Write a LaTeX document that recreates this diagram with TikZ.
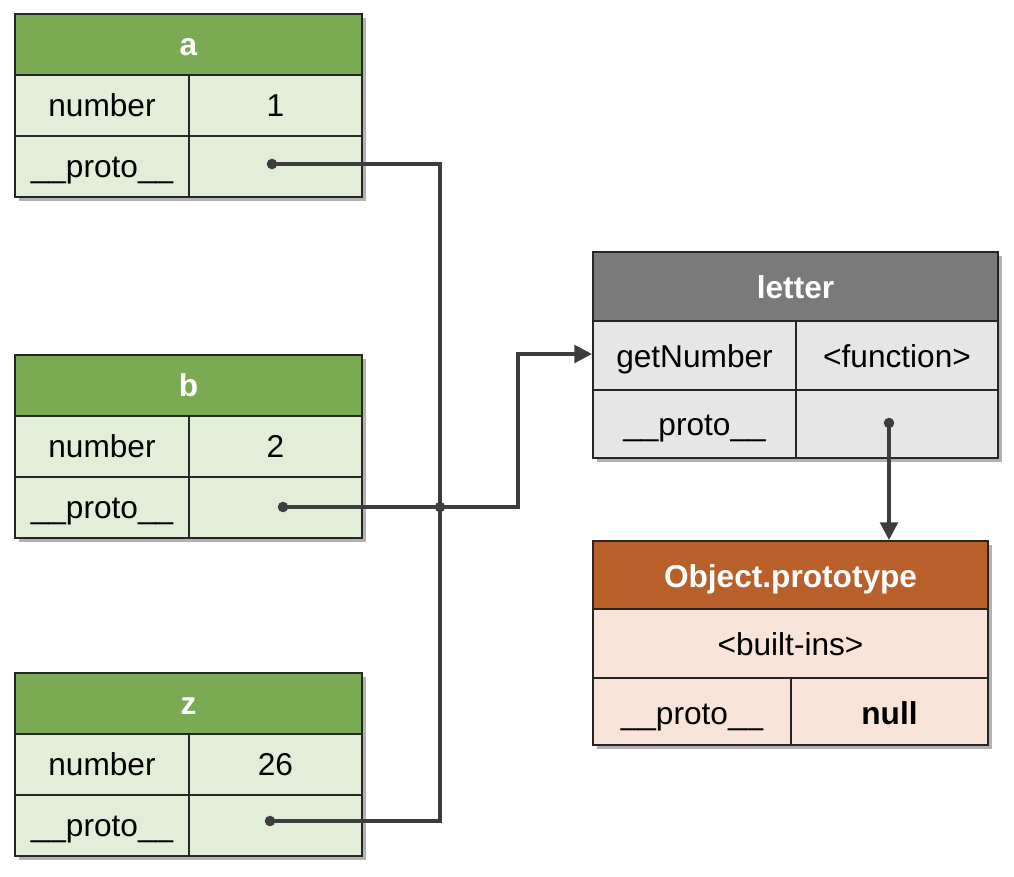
\documentclass[tikz,border=0pt]{standalone}
\usepackage{fontspec}
\setmainfont{Liberation Sans}
\usetikzlibrary{arrows.meta,shadows}

\definecolor{greenhead}{HTML}{7BAA55}
\definecolor{greenbody}{HTML}{E3EED9}
\definecolor{grayhead}{HTML}{7A7A7A}
\definecolor{graybody}{HTML}{E6E6E6}
\definecolor{orangehead}{HTML}{B95F29}
\definecolor{orangebody}{HTML}{F8E4D8}
\definecolor{linkgray}{HTML}{3D3D3D}

\tikzset{
  frame/.style={draw=black!85, line width=1pt},
  boxshadow/.style={drop shadow={shadow xshift=2.5pt, shadow yshift=-2.5pt, opacity=0.3, fill=black}},
  celltext/.style={font=\fontsize{18}{22}\selectfont, inner sep=0pt, text height=13pt, text depth=0pt},
  headtext/.style={celltext, font=\fontsize{18}{22}\selectfont\bfseries, text=white},
  link/.style={draw=linkgray, line width=2pt},
  dot/.style={fill=linkgray}
}

% Green object box: #1 name, #2 top edge, #3 value
\newcommand{\valuebox}[3]{%
  \draw[frame, boxshadow, fill=greenbody] (15,#2) rectangle ++(347,183);
  \fill[greenhead] (15,#2) rectangle ++(347,61);
  \draw[frame] (15,#2) rectangle ++(347,183);
  \draw[frame] (15,#2+61) -- ++(347,0) (15,#2+122) -- ++(347,0) (189,#2+61) -- ++(0,122);
  \node[headtext] (#1-title) at (188.5,#2+30.5) {#1};
  \node[celltext] (#1-key) at (102,#2+91.5) {number};
  \node[celltext] (#1-value) at (275.5,#2+91.5) {#3};
  \node[celltext] (#1-proto) at (102,#2+152.5) {\_\_proto\_\_};
}

\begin{document}
\begin{tikzpicture}[x=0.02cm, y=-0.02cm]
  \useasboundingbox (0,0) rectangle (1014,876);

  % Objects a, b and z
  \valuebox{a}{14}{1}
  \valuebox{b}{355}{2}
  \valuebox{z}{673}{26}

  % Object letter
  \draw[frame, boxshadow, fill=graybody] (593,252) rectangle (998,458);
  \fill[grayhead] (593,252) rectangle (998,321);
  \draw[frame] (593,252) rectangle (998,458);
  \draw[frame] (593,321) -- (998,321) (593,390) -- (998,390) (796,321) -- (796,458);
  \node[headtext] (letter-title) at (795.5,287) {letter};
  \node[celltext] (letter-key) at (694.5,356) {getNumber};
  \node[celltext] (letter-value) at (897,356) {<function>};
  \node[celltext] (letter-proto) at (694.5,424.5) {\_\_proto\_\_};

  % Object.prototype
  \draw[frame, boxshadow, fill=orangebody] (593,541) rectangle (988,745);
  \fill[orangehead] (593,541) rectangle (988,609);
  \draw[frame] (593,541) rectangle (988,745);
  \draw[frame] (593,609) -- (988,609) (593,678) -- (988,678) (791,678) -- (791,745);
  \node[headtext] (objproto-title) at (790.5,576) {Object.prototype};
  \node[celltext] (objproto-builtins) at (790.5,644.5) {<built-ins>};
  \node[celltext] (objproto-proto) at (692,713) {\_\_proto\_\_};
  \node[celltext, font=\fontsize{18}{22}\selectfont\bfseries] (objproto-null) at (889.5,713) {null};

  % Pointer end points
  \coordinate (a-dot) at (272,164);
  \coordinate (b-dot) at (283,507);
  \coordinate (z-dot) at (270,821);
  \coordinate (bus-top) at (440,164);
  \coordinate (bus-mid) at (440,507);
  \coordinate (bus-bottom) at (440,821);
  \coordinate (bend) at (518,507);
  \coordinate (letter-in) at (592,354);
  \coordinate (letter-dot) at (889,423);
  \coordinate (objproto-in) at (889,540);

  % __proto__ links
  \draw[link] (a-dot) -- (bus-top) -- (bus-bottom) -- (z-dot);
  \draw[link, -{Triangle[length=10pt, width=10pt]}] (b-dot) -- (bend) |- (letter-in);
  \draw[link, -{Triangle[length=10pt, width=10pt]}] (letter-dot) -- (objproto-in);

  % Dots
  \foreach \p in {a-dot, b-dot, z-dot, bus-mid, letter-dot}
    \fill[dot] (\p) circle[radius=3pt];
\end{tikzpicture}
\end{document}
